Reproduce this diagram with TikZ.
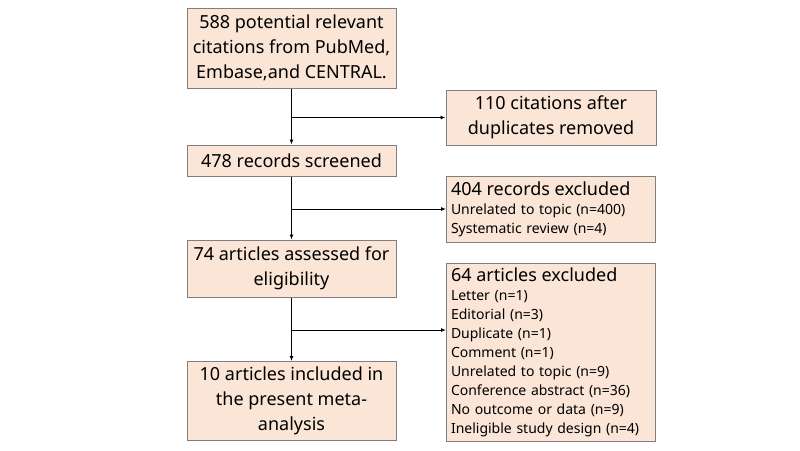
\documentclass[tikz,border=0pt]{standalone}
\usepackage{fontspec}
\setmainfont{Noto Sans}
\usetikzlibrary{arrows.meta}
\definecolor{boxfill}{HTML}{FBE5D6}
\definecolor{boxline}{HTML}{7F7F7F}
\tikzset{
  flowbox/.style={draw=boxline, fill=boxfill, line width=1pt, inner sep=3pt, anchor=center},
  mainbox/.style={flowbox, minimum width=209pt, align=center, font=\fontsize{18}{25}\selectfont},
  sidebox/.style={flowbox, minimum width=209pt, text width=200pt, align=left, font=\fontsize{14}{19}\selectfont},
  conn/.style={draw=black, line width=1pt},
  arr/.style={conn, -{Latex[length=5pt,width=4pt]}}
}
\newcommand{\bigline}[1]{{\fontsize{18}{25}\selectfont #1}}
\begin{document}
\begin{tikzpicture}[x=1pt,y=-1pt]
\useasboundingbox (0,0) rectangle (800,450);
\node[mainbox, minimum height=80pt] (b1) at (291.5,48) {588 potential relevant\\citations from PubMed,\\Embase,and CENTRAL.};
\node[mainbox, minimum height=55pt, minimum width=210pt] (b2) at (551,117.5) {110 citations after\\duplicates removed};
\node[mainbox, minimum height=31pt] (b3) at (291.5,160.5) {478 records screened};
\node[sidebox, minimum height=66pt] (b4) at (551,209) {\bigline{404 records excluded}\\Unrelated to topic (n=400)\\Systematic review (n=4)};
\node[mainbox, minimum height=57pt] (b5) at (291.5,268.5) {74 articles assessed for\\eligibility};
\node[sidebox, minimum height=178pt] (b6) at (551,352.5) {\bigline{64 articles excluded}\\Letter (n=1)\\Editorial (n=3)\\Duplicate (n=1)\\Comment (n=1)\\Unrelated to topic (n=9)\\Conference abstract (n=36)\\No outcome or data (n=9)\\Ineligible study design (n=4)};
\node[mainbox, minimum height=79pt] (b7) at (291.5,401) {10 articles included in\\the present meta-\\analysis};
\coordinate (j1) at (b1.south |- b2.west);
\coordinate (j2) at (b3.south |- b4.west);
\coordinate (j3) at ([yshift=22.5pt]b6.west -| b5.south);
\draw[arr] (b1.south) -- (b3.north);
\draw[arr] (j1) -- (b2.west);
\draw[arr] (b3.south) -- (b5.north);
\draw[arr] (j2) -- (b4.west);
\draw[arr] (b5.south) -- (b7.north);
\draw[arr] (j3) -- (j3 -| b6.west);
\end{tikzpicture}
\end{document}
